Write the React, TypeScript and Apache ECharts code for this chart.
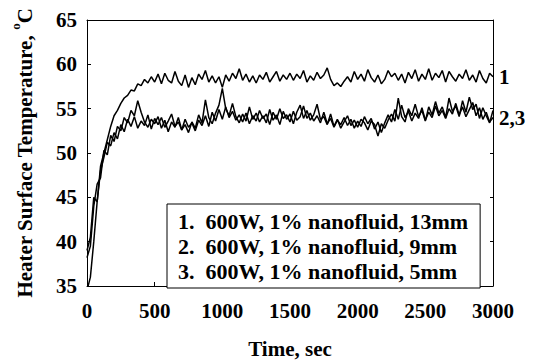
import React, { useEffect, useRef } from "react";
import * as echarts from "echarts";

const TIME_STEP = 25; // seconds between samples

const series13mm = [
  34.5, 36.0, 40.0, 44.5, 48.5, 50.0, 51.5, 53.0, 54.2, 54.8,
  55.6, 56.2, 56.5, 57.1, 57.0, 57.8, 57.6, 58.3, 57.9, 58.6,
  58.0, 58.9, 57.8, 59.0, 58.2, 57.9, 59.2, 58.1, 57.6, 58.8,
  57.4, 58.5, 57.7, 58.9, 58.3, 59.3, 58.0, 58.7, 57.9, 58.6,
  57.4, 58.8, 58.1, 59.0, 58.4, 59.5, 58.2, 58.9, 58.0, 58.7,
  57.9, 58.8, 58.3, 59.1, 58.0, 58.6, 59.2, 58.1, 58.8, 58.3,
  59.0, 58.2, 58.9, 58.4, 59.3, 58.0, 58.7, 58.2, 59.1, 58.4,
  58.8, 59.6, 58.3, 57.6, 57.9, 57.5, 58.1, 58.6, 58.0, 59.2,
  58.3, 58.9, 58.1, 59.4, 58.5, 58.0, 58.8, 57.8, 58.3, 59.3,
  58.6, 59.0, 58.2, 58.9, 57.9, 59.1, 58.4, 59.4, 58.1, 58.9,
  58.3, 59.5, 58.2, 59.0, 58.5, 59.3, 58.0, 59.2, 58.6, 58.1,
  58.9, 58.4, 59.4, 58.2, 58.8, 58.0, 59.3, 58.4, 57.9, 59.0,
  58.6,
];

const series9mm = [
  39.0, 40.5, 45.0, 44.5, 48.0, 49.5, 51.2, 50.8, 52.3, 51.6,
  53.2, 52.4, 53.8, 53.0, 54.1, 52.8, 53.6, 53.1, 54.3, 52.7,
  53.9, 53.2, 54.0, 52.9, 53.6, 54.4, 53.0, 53.5, 52.6, 53.8,
  52.9, 53.4, 52.5, 53.7, 53.1, 54.2, 53.0, 54.6, 53.6, 54.9,
  53.8, 55.2, 54.0, 54.7, 53.7, 54.3, 53.5, 54.5, 53.3, 54.2,
  53.6, 54.8, 53.9, 54.4, 53.2, 54.6, 53.8, 55.0, 53.9, 54.3,
  53.5, 54.7, 53.7, 54.1, 55.3, 53.9, 54.5, 53.6, 54.2, 53.4,
  54.6, 53.3, 53.9, 52.9, 53.7, 53.2, 54.0, 53.1, 53.8, 52.8,
  53.6, 53.0, 54.1, 53.3, 53.9, 52.7, 53.5, 52.3, 53.4, 54.3,
  53.5, 54.9, 53.8, 55.4, 54.0, 54.7, 53.6, 54.5, 53.9, 55.1,
  53.7, 54.6, 54.0, 55.3, 54.2, 54.8, 53.9, 55.0, 54.4, 55.6,
  54.3, 55.2, 54.1, 54.9, 55.7, 54.2, 55.1, 53.8, 54.6, 53.5,
  54.0,
];

const series5mm = [
  38.2, 39.5, 44.0, 46.5, 47.2, 50.3, 49.8, 52.0, 51.3, 53.0,
  52.5, 54.0, 53.4, 54.8, 54.2, 55.9, 54.6, 53.5, 52.9, 53.8,
  53.3, 54.1, 52.8, 53.7, 52.4, 53.5, 52.9, 54.0, 52.6, 53.2,
  52.3, 53.5, 52.8, 54.3, 53.4, 56.0, 54.0, 53.3, 54.5, 55.4,
  57.3, 55.0, 54.2, 55.6, 54.1, 53.4, 54.4, 53.6, 55.2, 53.8,
  54.5, 53.5, 54.2, 53.4, 54.9, 53.7, 54.3, 53.2, 54.7, 53.8,
  54.4, 53.3, 54.6, 55.4, 53.9, 54.8, 53.7, 54.3, 55.5, 53.8,
  54.1, 53.2, 54.4, 53.0, 53.8, 52.8, 53.5, 54.2, 53.1, 53.7,
  52.9, 53.8, 53.4, 52.6, 53.6, 53.2, 51.9, 53.3, 52.8, 53.7,
  54.4, 53.6, 56.2, 54.1, 53.5, 55.0, 54.2, 55.5, 54.1, 54.8,
  53.6, 55.2, 54.3, 55.8, 54.5, 55.2, 54.0, 56.2, 54.7, 55.3,
  54.1, 55.9, 54.6, 56.3, 54.9, 55.5, 53.9, 55.1, 54.2, 53.4,
  54.8,
];

const legendNames = [
  "1.  600W, 1% nanofluid, 13mm",
  "2.  600W, 1% nanofluid, 9mm",
  "3.  600W, 1% nanofluid, 5mm",
];
const endLabels = ["1", "2,3", ""];
const allSeries = [series13mm, series9mm, series5mm];

const X_MIN = 0;
const X_MAX = 3000;
const X_INTERVAL = 500;
const Y_MIN = 35;
const Y_MAX = 65;
const Y_INTERVAL = 5;

const FONT = "'Liberation Serif', 'Times New Roman', serif";

export default function App() {
  const ref = useRef<HTMLDivElement>(null);

  useEffect(() => {
    if (!ref.current) return;
    const chart = echarts.init(ref.current, undefined, { renderer: "svg" });
    const labelStyle = {
      color: "#000",
      fontFamily: FONT,
      fontWeight: "bold" as const,
      fontSize: 21,
    };
    const option: any = {
      animation: false,
      backgroundColor: "#fff",
      textStyle: { fontFamily: FONT, fontWeight: "bold", color: "#000" },
      grid: { left: 87, right: 42, top: 20, bottom: 70 },
      legend: {
        show: true,
        orient: "vertical",
        left: 167,
        top: 204,
        icon: "none",
        itemWidth: 0,
        itemHeight: 14,
        itemGap: 1,
        padding: [5, 12, 5, 6],
        borderColor: "#000",
        borderWidth: 1,
        backgroundColor: "#fff",
        selectedMode: false,
        data: legendNames,
        textStyle: {
          color: "#000",
          fontFamily: FONT,
          fontWeight: "bold",
          fontSize: 22,
          lineHeight: 24,
        },
      },
      xAxis: [
        {
          type: "value",
          min: X_MIN,
          max: X_MAX,
          interval: X_INTERVAL,
          name: "Time, sec",
          nameLocation: "middle",
          nameGap: 52,
          nameTextStyle: labelStyle,
          axisLine: { show: true, lineStyle: { color: "#000", width: 1 } },
          axisTick: { show: true, inside: true, length: 4, lineStyle: { color: "#000" } },
          axisLabel: { ...labelStyle, margin: 14, formatter: (v: number) => String(v) },
          splitLine: { show: false },
        },
        {
          type: "value",
          position: "top",
          min: X_MIN,
          max: X_MAX,
          interval: X_INTERVAL,
          axisLine: { show: true, onZero: false, lineStyle: { color: "#000", width: 1 } },
          axisTick: { show: false },
          axisLabel: { show: false },
          splitLine: { show: false },
        },
      ],
      yAxis: [
        {
          type: "value",
          min: Y_MIN,
          max: Y_MAX,
          interval: Y_INTERVAL,
          name: "{t|Heater Surface Temperature, }{s|o}{t|C}",
          nameLocation: "middle",
          nameGap: 52,
          nameRotate: 90,
          nameTextStyle: {
            rich: {
              t: { ...labelStyle, lineHeight: 26, verticalAlign: "bottom" },
              s: { ...labelStyle, fontSize: 13, lineHeight: 13, verticalAlign: "top" },
            },
          },
          axisLine: { show: true, onZero: false, lineStyle: { color: "#000", width: 1 } },
          axisTick: { show: true, inside: true, length: 4, lineStyle: { color: "#000" } },
          axisLabel: { ...labelStyle, margin: 10, formatter: (v: number) => String(v) },
          splitLine: { show: false },
        },
        {
          type: "value",
          position: "right",
          min: Y_MIN,
          max: Y_MAX,
          interval: Y_INTERVAL,
          axisLine: { show: true, onZero: false, lineStyle: { color: "#000", width: 1 } },
          axisTick: { show: true, inside: true, length: 3, lineStyle: { color: "#000" } },
          axisLabel: { show: false },
          splitLine: { show: false },
        },
      ],
      series: allSeries.map((values, i) => ({
        name: legendNames[i],
        type: "line",
        xAxisIndex: 0,
        yAxisIndex: 0,
        showSymbol: false,
        symbol: "none",
        data: values.map((v, k) => [k * TIME_STEP, v]),
        lineStyle: { color: "#000", width: 1.5 },
        itemStyle: { color: "#000" },
        endLabel: {
          show: endLabels[i] !== "",
          formatter: endLabels[i],
          distance: 6,
          ...labelStyle,
        },
        z: 3 - i,
      })),
    };
    chart.setOption(option);
    return () => chart.dispose();
  }, []);

  return (
    <div
      ref={ref}
      style={{ position: "fixed", left: 0, top: 0, width: 535, height: 364 }}
    />
  );
}
